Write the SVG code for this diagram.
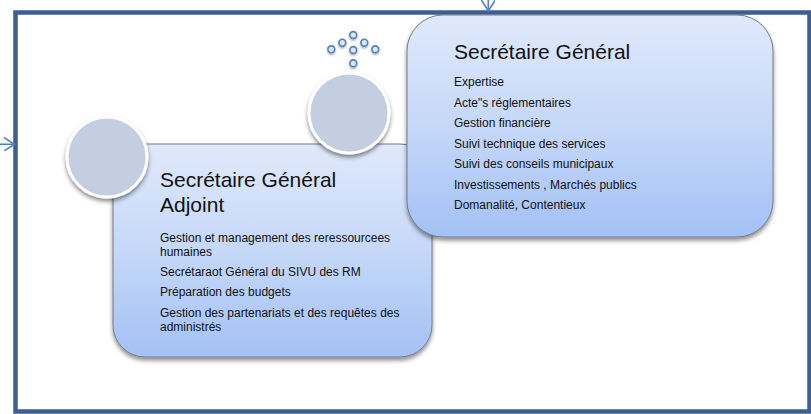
<svg xmlns="http://www.w3.org/2000/svg" width="811" height="414" viewBox="0 0 811 414">
  <defs>
    <linearGradient id="boxGrad" x1="0" y1="0" x2="0" y2="1">
      <stop offset="0" stop-color="#e0e9fb"/>
      <stop offset="0.5" stop-color="#c5d8f8"/>
      <stop offset="1" stop-color="#a3c1f5"/>
    </linearGradient>
    <filter id="shadow" x="-10%" y="-10%" width="120%" height="130%">
      <feDropShadow dx="0" dy="3" stdDeviation="2" flood-color="#000" flood-opacity="0.45"/>
    </filter>
    <filter id="dotShadow" x="-50%" y="-50%" width="200%" height="200%">
      <feDropShadow dx="0" dy="1.5" stdDeviation="1.2" flood-color="#000" flood-opacity="0.35"/>
    </filter>
    <marker id="openArrow" viewBox="0 0 12 14" refX="11" refY="7" markerWidth="12" markerHeight="14" markerUnits="userSpaceOnUse" orient="auto">
      <path d="M0,0 L11,7 L0,14" fill="none" stroke="#4f81bd" stroke-width="1.6"/>
    </marker>
  </defs>
  <style>
    .frame { fill: #ffffff; stroke: #3b5f91; stroke-width: 4.5; }
    .box { fill: url(#boxGrad); stroke: #767b85; stroke-width: 1; filter: url(#shadow); }
    .circle { fill: #c3cee1; stroke: #ffffff; stroke-width: 3; filter: url(#shadow); }
    .dot { fill: #dce6f4; stroke: #4f81bd; stroke-width: 1.6; filter: url(#dotShadow); }
    .conn { fill: none; stroke: #4f81bd; stroke-width: 1.6; }
    .title { font-family: "Liberation Sans", Arial, sans-serif; font-size: 21px; fill: #111111; }
    .item { font-family: "Liberation Sans", Arial, sans-serif; font-size: 12px; fill: #111111; }
  </style>

  <rect class="frame" x="15.5" y="12.5" width="794" height="399"/>

  <g id="connectors">
    <line class="conn" x1="488.3" y1="0" x2="488.3" y2="11" marker-end="url(#openArrow)"/>
    <line class="conn" x1="0" y1="144.3" x2="14.5" y2="144.3" marker-end="url(#openArrow)"/>
  </g>

  <g id="sg-adjoint">
    <rect class="box" x="113" y="144" width="319" height="213" rx="32" ry="32"/>
    <text class="title" x="160" y="187">Secrétaire Général</text>
    <text class="title" x="160" y="212">Adjoint</text>
    <text class="item" x="160" y="241.5">Gestion et management des reressourcees</text>
    <text class="item" x="160" y="255.5">humaines</text>
    <text class="item" x="160" y="276">Secrétaraot Général du SIVU des RM</text>
    <text class="item" x="160" y="295.5">Préparation des budgets</text>
    <text class="item" x="160" y="316.5">Gestion des partenariats et des requêtes des</text>
    <text class="item" x="160" y="330.5">administrés</text>
  </g>

  <g id="circle-adjoint">
    <circle class="circle" cx="107" cy="157" r="40"/>
  </g>

  <g id="sg">
    <rect class="box" x="407" y="15" width="366" height="222" rx="36" ry="36"/>
    <text class="title" x="454" y="59">Secrétaire Général</text>
    <text class="item" x="454" y="86">Expertise</text>
    <text class="item" x="454" y="106.5">Acte"s réglementaires</text>
    <text class="item" x="454" y="127">Gestion financière</text>
    <text class="item" x="454" y="147.5">Suivi technique des services</text>
    <text class="item" x="454" y="168">Suivi des conseils municipaux</text>
    <text class="item" x="454" y="188.5">Investissements , Marchés publics</text>
    <text class="item" x="454" y="209">Domanalité, Contentieux</text>
  </g>

  <g id="circle-sg">
    <circle class="circle" cx="349" cy="113" r="40"/>
  </g>

  <g id="dots">
    <circle class="dot" cx="353.3" cy="35" r="3.4"/>
    <circle class="dot" cx="342.3" cy="42.7" r="3.4"/>
    <circle class="dot" cx="364.3" cy="42.7" r="3.4"/>
    <circle class="dot" cx="331.3" cy="49.3" r="3.4"/>
    <circle class="dot" cx="353.3" cy="50" r="3.4"/>
    <circle class="dot" cx="375.3" cy="49.3" r="3.4"/>
    <circle class="dot" cx="353.3" cy="63.3" r="3.4"/>
  </g>
</svg>
